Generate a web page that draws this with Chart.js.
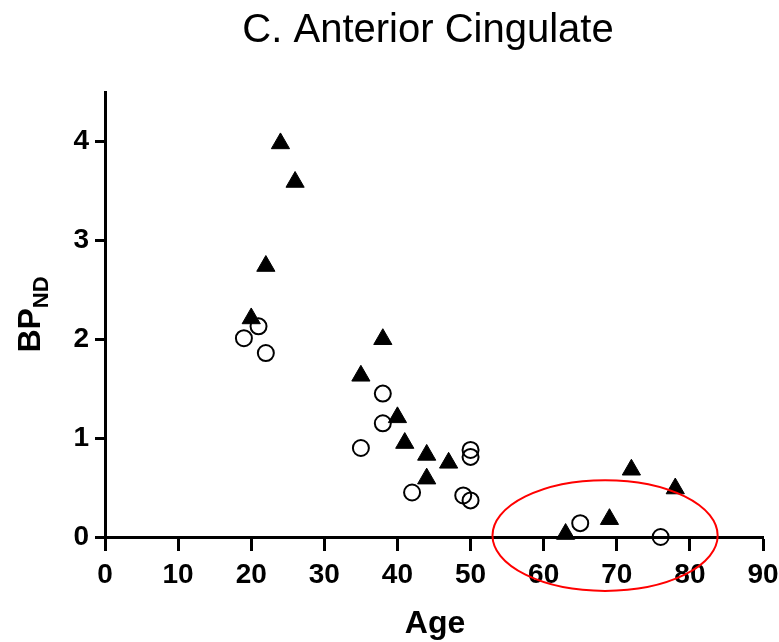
<!DOCTYPE html>
<html lang="en">
<head>
    <meta charset="UTF-8">
    <script src="https://cdn.jsdelivr.net/npm/chart.js"></script>
    <title>C. Anterior Cingulate</title>
    <style>
        body { margin: 0; background: #fff; }
        #wrap { width: 779px; height: 642px; }
    </style>
</head>
<body>
    <div id="wrap">
        <canvas id="bpChart"></canvas>
    </div>

    <script>
    // filled triangles
    const triAge = [20, 22, 24, 26, 35, 38, 40, 41, 44, 44, 47, 63, 69, 72, 78];
    const triBP  = [2.21, 2.74, 3.98, 3.59, 1.63, 2.00, 1.21, 0.95, 0.83, 0.59, 0.75, 0.03, 0.18, 0.68, 0.49];

    // open circles
    const circAge = [19, 21, 22, 35, 38, 38, 42, 49, 50, 50, 50, 65, 76];
    const circBP  = [2.01, 2.13, 1.86, 0.90, 1.45, 1.15, 0.45, 0.42, 0.88, 0.81, 0.37, 0.14, 0.00];

    const xTicks = [0, 10, 20, 30, 40, 50, 60, 70, 80, 90];
    const yTicks = [0, 1, 2, 3, 4];

    // red ellipse marking the older group (centre and radii in data units)
    const ringCentre = [68.4, 0.015];
    const ringRadius = [15.4, 0.56];

    const toPoints = (xs, ys) => xs.map((x, i) => ({x: x, y: ys[i]}));

    const fontFam = "'Liberation Sans', Arial, sans-serif";

    const extras = {
        id: 'extras',
        afterDraw(chart) {
            const ctx = chart.ctx;
            const xs = chart.scales.x;
            const ys = chart.scales.y;
            const area = chart.chartArea;

            // ellipse
            const cx = xs.getPixelForValue(ringCentre[0]);
            const cy = ys.getPixelForValue(ringCentre[1]);
            const rx = xs.getPixelForValue(ringCentre[0] + ringRadius[0]) - cx;
            const ry = cy - ys.getPixelForValue(ringCentre[1] + ringRadius[1]);
            ctx.save();
            ctx.strokeStyle = '#ff0000';
            ctx.lineWidth = 2;
            ctx.beginPath();
            ctx.ellipse(cx, cy, rx, ry, 0, 0, Math.PI * 2);
            ctx.stroke();

            // title
            ctx.fillStyle = '#000';
            ctx.textAlign = 'center';
            ctx.textBaseline = 'alphabetic';
            ctx.font = '40px ' + fontFam;
            ctx.fillText('C. Anterior Cingulate', 428, 42);

            // x title
            ctx.font = 'bold 32px ' + fontFam;
            ctx.fillText('Age', 435, 633);

            // y title with subscript
            ctx.translate(40, (area.top + area.bottom) / 2);
            ctx.rotate(-Math.PI / 2);
            ctx.font = 'bold 32px ' + fontFam;
            const wBP = ctx.measureText('BP').width;
            ctx.font = 'bold 22px ' + fontFam;
            const wND = ctx.measureText('ND').width;
            const start = -(wBP + wND) / 2;
            ctx.textAlign = 'left';
            ctx.font = 'bold 32px ' + fontFam;
            ctx.fillText('BP', start, 0);
            ctx.font = 'bold 22px ' + fontFam;
            ctx.fillText('ND', start + wBP, 8);
            ctx.restore();
        }
    };

    function createChart() {
        const ctx = document.getElementById('bpChart');

        new Chart(ctx, {
            type: 'scatter',
            data: {
                datasets: [{
                    label: 'triangles',
                    data: toPoints(triAge, triBP),
                    pointStyle: 'triangle',
                    pointRadius: 10.5,
                    backgroundColor: '#000',
                    borderColor: '#000',
                    borderWidth: 1,
                    clip: false
                }, {
                    label: 'circles',
                    data: toPoints(circAge, circBP),
                    pointStyle: 'circle',
                    pointRadius: 8,
                    backgroundColor: 'rgba(0,0,0,0)',
                    borderColor: '#000',
                    borderWidth: 2,
                    clip: false
                }]
            },
            options: {
                responsive: true,
                maintainAspectRatio: false,
                animation: false,
                layout: {
                    padding: {left: 0, right: 16, top: 92, bottom: 0}
                },
                plugins: {
                    legend: {display: false},
                    tooltip: {enabled: false},
                    title: {display: false}
                },
                scales: {
                    x: {
                        type: 'linear',
                        min: 0,
                        max: 90,
                        afterBuildTicks: (scale) => { scale.ticks = xTicks.map(v => ({value: v})); },
                        afterFit: (scale) => {
                            scale.height = 105;
                            scale.paddingLeft = 0;
                            scale.paddingRight = 0;
                        },
                        border: {display: true, color: '#000', width: 3},
                        grid: {drawOnChartArea: false, drawTicks: true, tickLength: 14, tickWidth: 3, tickColor: '#000'},
                        ticks: {
                            color: '#000',
                            padding: 7,
                            maxRotation: 0,
                            font: {family: fontFam, size: 28, weight: 'bold'}
                        }
                    },
                    y: {
                        type: 'linear',
                        min: 0,
                        max: 4.5,
                        afterBuildTicks: (scale) => { scale.ticks = yTicks.map(v => ({value: v})); },
                        afterFit: (scale) => {
                            scale.width = 105;
                            scale.paddingTop = 0;
                            scale.paddingBottom = 0;
                        },
                        border: {display: true, color: '#000', width: 3},
                        grid: {drawOnChartArea: false, drawTicks: true, tickLength: 10, tickWidth: 3, tickColor: '#000'},
                        ticks: {
                            color: '#000',
                            padding: 6,
                            font: {family: fontFam, size: 28, weight: 'bold'}
                        }
                    }
                }
            },
            plugins: [extras]
        });
    }

    createChart();
    </script>
</body>
</html>
